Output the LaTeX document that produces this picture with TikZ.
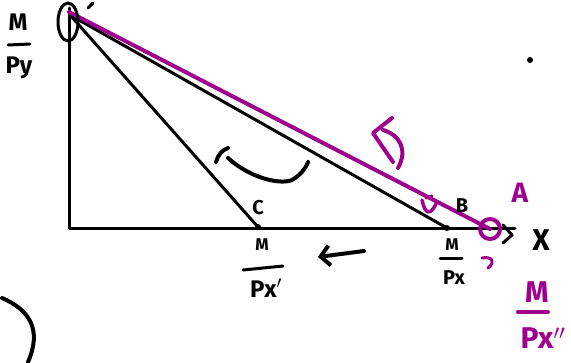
\documentclass[tikz,border=0pt]{standalone}
\usepackage{fontspec}
\setmainfont{Fira Sans}
\usetikzlibrary{arrows.meta}
\definecolor{pur}{RGB}{158,0,142}
\tikzset{
  ink/.style={line width=3pt, line cap=round, line join=round},
  pink/.style={line width=4pt, line cap=round, line join=round, draw=pur},
  lbl/.style={font=\fontsize{20}{22}\selectfont\bfseries, inner sep=0pt},
  sm/.style={font=\fontsize{17}{17}\selectfont\bfseries, inner sep=0pt},
  big/.style={font=\fontsize{24}{24}\selectfont\bfseries, inner sep=0pt},
  huge/.style={font=\fontsize{30}{30}\selectfont\bfseries, inner sep=0pt},
}
\begin{document}
\begin{tikzpicture}[x=1pt,y=-1pt]
\useasboundingbox (0,0) rectangle (571,362);
% axes
\coordinate (top) at (69,8);
\coordinate (O) at (69,228);
\coordinate (xend) at (515,228);
\coordinate (apex) at (70,15);
\coordinate (papex) at (69,12);
\coordinate (C) at (258,227);
\coordinate (B) at (447,228);
\coordinate (A) at (490,229);
\draw[ink] (top) -- (O) -- (xend);
\draw[ink] (apex) -- (C);
\draw[ink] (apex) -- (B);
\draw[pink] (papex) -- (A);
\draw[pink] (A) circle (10);
\fill (C) circle (3);
\fill (B) circle (3);
% loop at apex
\draw[ink] (68,22) ellipse (10 and 19);
\draw[ink] (88,8) -- (93,3);
% dot top right
\fill (530,60) circle (3);
% scribble arc bottom-left
\draw[ink, line width=4pt] (2,298) .. controls (30,310) and (42,330) .. (28,362);
% curve in the middle
\draw[ink, line width=4pt] (228,148) .. controls (222,150) and (218,155) .. (216,162);
\draw[ink, line width=4pt] (228,158) .. controls (250,178) and (280,185) .. (292,180) .. controls (300,175) and (305,170) .. (308,162);
% purple rotate arrow
\draw[pink] (392,118) -- (373,133) -- (393,162);
\draw[pink] (383,130) .. controls (400,135) and (408,150) .. (398,168);
% purple small marks
\draw[pink, line width=3.5pt] (422,200) .. controls (425,214) and (430,216) .. (436,204);
\draw[pink, line width=3pt] (426,198) -- (432,196);
\draw[pink, line width=3pt] (482,258) .. controls (492,256) and (496,262) .. (488,268);
% arrow left
\draw[ink, line width=4pt, -{Straight Barb[length=9pt,width=20pt]}] (364,251) -- (318,257);
% > near X
\draw[ink] (503,225) -- (512,235) -- (503,243);
% M/Py
\node[big] (myn) at (18,22) {M};
\draw[ink] (8,45) -- (30,44);
\node[big] (myd) at (19,68) {Py};
% C
\node[lbl] (lc) at (258,208) {C};
% M/Px'
\node[sm] (m1n) at (262,245) {M};
\draw[ink] (243,270) -- (283,266);
\node[big] (m1d) at (266,288) {Px$'$};
% M/Px
\node[sm] (mn) at (452,245) {M};
\draw[ink] (440,258) -- (462,258);
\node[lbl] (md) at (454,278) {Px};
% B
\node[lbl] (lb) at (462,206) {B};
% X
\node[huge] (lx) at (541,240) {X};
% A
\node[big, text=pur, font=\fontsize{28}{28}\selectfont\bfseries] (la) at (520,193) {A};
% M/Px''
\draw[pink] (518,312) -- (548,312);
\node[huge, text=pur] (m2n) at (537,292) {M};
\node[huge, text=pur] (m2d) at (543,338) {Px$''$};
\end{tikzpicture}
\end{document}
